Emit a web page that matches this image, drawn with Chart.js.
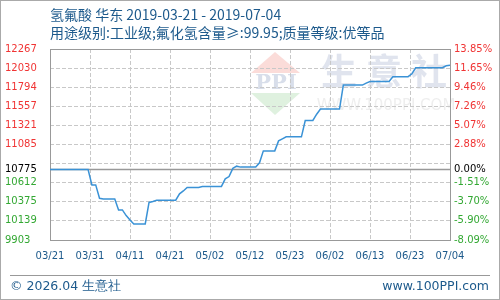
<!DOCTYPE html>
<html>
<head>
<meta charset="utf-8">
<script src="https://cdn.jsdelivr.net/npm/chart.js@4.4.1/dist/chart.umd.min.js"></script>
<style>
  html, body { margin: 0; padding: 0; background: #fff; }
  #wrap { width: 500px; height: 300px; }
</style>
</head>
<body>
<div id="wrap"><canvas id="priceChart" width="500" height="300"></canvas></div>
<script>
const titleLine1 = "氢氟酸 华东 2019-03-21 - 2019-07-04";
const titleLine2 = "用途级别:工业级;氟化氢含量≥:99.95;质量等级:优等品";
const footerLeft = "© 2026.04 生意社";
const footerRight = "www.100PPI.com";

const xTickLabels = ["03/21", "03/31", "04/11", "04/21", "05/02", "05/12", "05/23", "06/02", "06/13", "06/23", "07/04"];

// daily price, 2019-03-21 .. 2019-07-04
const prices = [
  10775, 10775, 10775, 10775, 10775, 10775, 10775, 10775, 10775, 10775,
  10775, 10585, 10585, 10420, 10411, 10411, 10411, 10411, 10275, 10275,
  10205, 10151, 10101, 10101, 10101, 10101, 10368, 10380, 10395, 10395,
  10395, 10395, 10395, 10395, 10475, 10510, 10554, 10554, 10554, 10554,
  10566, 10566, 10566, 10566, 10566, 10566, 10660, 10688, 10790, 10817,
  10805, 10805, 10805, 10805, 10805, 10858, 11006, 11006, 11006, 11006,
  11130, 11155, 11180, 11180, 11180, 11180, 11180, 11382, 11382, 11382,
  11460, 11523, 11523, 11523, 11523, 11523, 11523, 11820, 11820, 11820,
  11820, 11820, 11820, 11845, 11865, 11865, 11865, 11865, 11865, 11865,
  11924, 11924, 11924, 11924, 11924, 11961, 12035, 12035, 12035, 12035,
  12035, 12035, 12035, 12035, 12060, 12065
];

const baseValue = 10775;
const yMin = 9903;
const yMax = 12267;
const yTickValues = [9903, 10139.4, 10375.8, 10612.2, 10775, 10848.6, 11085, 11321.4, 11557.8, 11794.2, 12030.6, 12267];
const yTickLabels = ["9903", "10139", "10375", "10612", "10775", "", "11085", "11321", "11557", "11794", "12030", "12267"];
const pctTickLabels = ["-8.09%", "-5.90%", "-3.70%", "-1.51%", "0.00%", "", "2.88%", "5.07%", "7.26%", "9.46%", "11.65%", "13.85%"];

const blue = "#1d5a8c";
const upColor = "#f03434";
const downColor = "#33a833";

const points = prices.map((v, i) => ({ x: i, y: v }));
const basePoints = [{ x: 0, y: baseValue }, { x: prices.length - 1, y: baseValue }];

function tickColor(ctx) {
  const v = ctx.tick.value;
  if (v > baseValue) return upColor;
  if (v < baseValue) return downColor;
  return "#000";
}

function setYTicks(axis) {
  axis.ticks = yTickValues.map((v) => ({ value: v }));
}

const decorPlugin = {
  id: "decor",
  beforeDraw(chart) {
    const ctx = chart.ctx;
    ctx.save();
    ctx.fillStyle = "#fff";
    ctx.fillRect(0, 0, chart.width, chart.height);

    // watermark logo
    ctx.fillStyle = "#fbdcd9";
    ctx.beginPath();
    ctx.moveTo(275, 52);
    ctx.lineTo(300, 73);
    ctx.lineTo(251, 73);
    ctx.closePath();
    ctx.fill();
    ctx.fillStyle = "#dff1df";
    ctx.beginPath();
    ctx.moveTo(251, 93);
    ctx.lineTo(300, 93);
    ctx.lineTo(275, 115);
    ctx.closePath();
    ctx.fill();
    ctx.fillStyle = "#d8deea";
    ctx.font = "bold 21px 'DejaVu Serif'";
    ctx.textAlign = "center";
    ctx.textBaseline = "middle";
    ctx.fillText("PPI", 276, 84);

    ctx.fillStyle = "#e0e4ee";
    ctx.font = "bold 36px 'Noto Sans CJK SC'";
    ["生", "意", "社"].forEach((c, i) => ctx.fillText(c, 339 + i * 45, 71));
    ctx.fillStyle = "#eeeeee";
    ctx.font = "15px 'DejaVu Sans'";
    ctx.fillText("WWW.100PPI.COM", 386, 106);
    ctx.restore();
  },
  beforeDatasetsDraw(chart) {
    const { ctx, chartArea } = chart;
    ctx.save();
    ctx.strokeStyle = "#999";
    ctx.lineWidth = 1;
    ctx.strokeRect(Math.round(chartArea.left) + 0.5, Math.round(chartArea.top) + 0.5,
      Math.round(chartArea.right - chartArea.left), Math.round(chartArea.bottom - chartArea.top));
    ctx.restore();
  },
  afterDraw(chart) {
    const ctx = chart.ctx;
    ctx.save();
    ctx.fillStyle = blue;
    ctx.textBaseline = "middle";
    ctx.textAlign = "left";
    ctx.font = "14px 'Noto Sans CJK SC'";
    ctx.fillText(titleLine1, 50, 15);
    ctx.fillText(titleLine2, 50, 33);

    ctx.strokeStyle = "#999";
    ctx.beginPath();
    ctx.moveTo(10, 275.5);
    ctx.lineTo(490, 275.5);
    ctx.stroke();

    ctx.font = "12.5px 'DejaVu Sans'";
    ctx.fillText(footerLeft, 10, 287);
    ctx.textAlign = "right";
    ctx.fillText(footerRight, 489, 287);

    ctx.strokeStyle = "#aaa";
    ctx.strokeRect(0.5, 0.5, chart.width - 1, chart.height - 1);
    ctx.restore();
  }
};

Chart.defaults.font.family = "'DejaVu Sans'";
Chart.defaults.font.size = 10;

new Chart(document.getElementById("priceChart"), {
  type: "line",
  data: {
    datasets: [
      {
        label: "price",
        data: points,
        borderColor: "#3a92d6",
        borderWidth: 1.5,
        pointRadius: 0,
        tension: 0,
        order: 0,
        yAxisID: "y",
      },
      {
        label: "base",
        data: basePoints,
        borderColor: "#999",
        borderWidth: 1.5,
        pointRadius: 0,
        order: 1,
        yAxisID: "y",
      },
    ],
  },
  options: {
    responsive: false,
    animation: false,
    devicePixelRatio: 1,
    layout: { padding: { left: 5, right: 0, top: 49, bottom: 10 } },
    plugins: {
      legend: { display: false },
      tooltip: { enabled: false },
    },
    scales: {
      x: {
        type: "linear",
        min: 0,
        max: prices.length - 1,
        afterBuildTicks: (axis) => {
          const step = (prices.length - 1) / (xTickLabels.length - 1);
          axis.ticks = xTickLabels.map((t, i) => ({ value: i * step }));
        },
        afterFit: (scale) => { scale.height = 50; },
        ticks: {
          callback: (value, index) => xTickLabels[index],
          color: blue,
          padding: 10,
          autoSkip: false,
          maxRotation: 0,
        },
        grid: {
          drawTicks: false,
          color: (ctx) => (ctx.index === 0 || ctx.index === xTickLabels.length - 1) ? "rgba(0,0,0,0)" : "#c8c8c8",
        },
        border: { display: false, dash: [4, 2] },
      },
      y: {
        position: "left",
        min: yMin,
        max: yMax,
        afterBuildTicks: setYTicks,
        afterFit: (scale) => { scale.width = 45; },
        ticks: {
          callback: (value, index) => yTickLabels[index],
          color: tickColor,
          crossAlign: "far",
          autoSkip: false,
        },
        grid: {
          drawTicks: false,
          color: (ctx) => {
            const v = ctx.tick.value;
            return (v === baseValue || v === yMin || v === yMax) ? "rgba(0,0,0,0)" : "#c8c8c8";
          },
        },
        border: { display: false, dash: [4, 2] },
      },
      y2: {
        position: "right",
        min: yMin,
        max: yMax,
        afterBuildTicks: setYTicks,
        afterFit: (scale) => { scale.width = 50; },
        ticks: {
          callback: (value, index) => pctTickLabels[index],
          color: tickColor,
          padding: 4,
          autoSkip: false,
        },
        grid: { display: false, drawTicks: false },
        border: { display: false },
      },
    },
  },
  plugins: [decorPlugin],
});
</script>
</body>
</html>
